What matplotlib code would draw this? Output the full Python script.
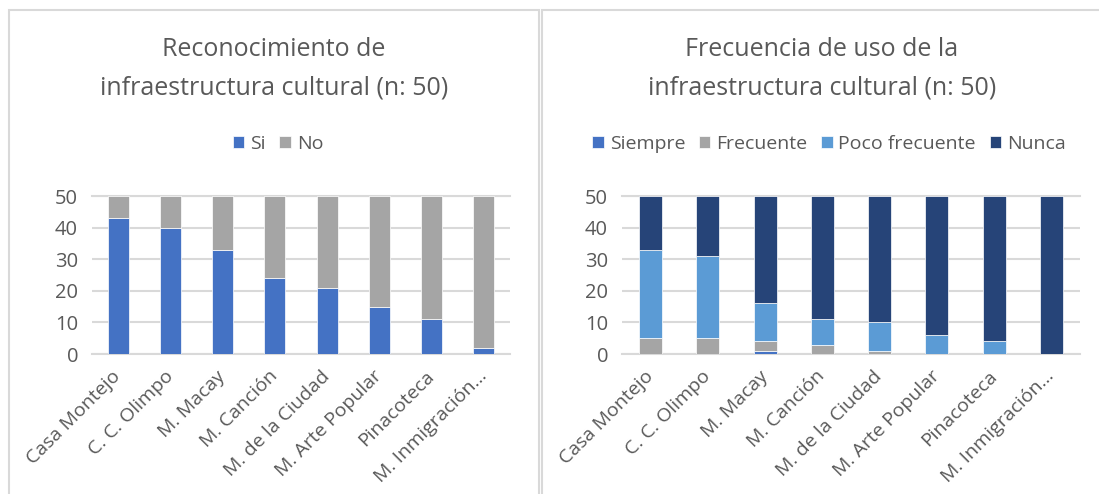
import numpy as np
import matplotlib.pyplot as plt
from matplotlib.patches import Rectangle

plt.rcParams['font.family'] = ['Open Sans', 'DejaVu Sans']

# ---------------- DATA ----------------
lugares = ["Casa Montejo", "C. C. Olimpo", "M. Macay", "M. Canción",
           "M. de la Ciudad", "M. Arte Popular", "Pinacoteca", "M. Inmigración..."]

# reconocimiento
si = [43, 40, 33, 24, 21, 15, 11, 2]
no = [7, 10, 17, 26, 29, 35, 39, 48]

# frecuencia de uso
siempre = [0, 0, 1, 0, 0, 0, 0, 0]
frecuente = [5, 5, 3, 3, 1, 0, 0, 0]
poco_frecuente = [28, 26, 12, 8, 9, 6, 4, 0]
nunca = [17, 19, 34, 39, 40, 44, 46, 50]

GRIS_TXT = "#595959"
GRID = "#d9d9d9"

fig = plt.figure(figsize=(10.99, 4.94), dpi=100)

# panel borders (Excel chart areas)
W, H = 1099, 494
for x0, x1 in [(9, 539), (542, 1110)]:
    fig.patches.append(Rectangle((x0 / W, -0.05), (x1 - x0) / W, (H - 10.5) / H + 0.05,
                                 transform=fig.transFigure, fill=False,
                                 edgecolor="#d9d9d9", linewidth=1.5))


def estilo(ax):
    x = np.arange(len(lugares))
    ax.set_xlim(-0.5, len(lugares) - 0.5)
    ax.set_ylim(0, 50)
    ax.set_yticks([0, 10, 20, 30, 40, 50])
    ax.yaxis.grid(True, color=GRID, linewidth=1.5, zorder=0)
    ax.set_axisbelow(True)
    for s in ax.spines.values():
        s.set_visible(False)
    ax.tick_params(length=0, labelsize=14.5, labelcolor=GRIS_TXT, pad=10)
    ax.set_xticks(x)
    ax.set_xticklabels(lugares, rotation=45, ha="right", va="center", rotation_mode="anchor",
                       fontsize=14, color=GRIS_TXT)
    ax.tick_params(axis="x", pad=14)
    ax.axhline(0, color=GRID, linewidth=1.5, zorder=0, clip_on=False)
    ax.axhline(50, color=GRID, linewidth=1.5, zorder=0, clip_on=False)


# ---------------- RECONOCIMIENTO ----------------
ax1 = fig.add_axes([92 / W, 1 - 354 / H, (510 - 92) / W, (354 - 196) / H])
x = np.arange(len(lugares))
ax1.bar(x, si, width=0.4, color="#4472C4", edgecolor="white", linewidth=0.5, label="Si", zorder=2)
ax1.bar(x, no, width=0.4, bottom=si, color="#A5A5A5", edgecolor="white", linewidth=0.5, label="No", zorder=2)
estilo(ax1)
fig.text(274 / W, 1 - 69 / H, "Reconocimiento de\ninfraestructura cultural (n: 50)",
         ha="center", va="center", fontsize=18, color=GRIS_TXT, linespacing=1.7)
fig.legend(*ax1.get_legend_handles_labels(), loc="center", bbox_to_anchor=(278 / W, 1 - 144 / H),
           ncol=2, frameon=False, fontsize=14, handlelength=0.6, handleheight=0.6,
           handletextpad=0.3, columnspacing=0.7, labelcolor=GRIS_TXT)

# ---------------- FRECUENCIA ----------------
ax2 = fig.add_axes([622 / W, 1 - 354 / H, (1080 - 622) / W, (354 - 196) / H])
base = np.zeros(len(lugares))
for vals, col, lab in [(siempre, "#4472C4", "Siempre"), (frecuente, "#A5A5A5", "Frecuente"),
                       (poco_frecuente, "#5B9BD5", "Poco frecuente"), (nunca, "#264478", "Nunca")]:
    ax2.bar(x, vals, width=0.4, bottom=base, color=col, edgecolor="white", linewidth=0.5,
            label=lab, zorder=2)
    base = base + np.array(vals)
estilo(ax2)
fig.text(822 / W, 1 - 69 / H, "Frecuencia de uso de la\ninfraestructura cultural (n: 50)",
         ha="center", va="center", fontsize=18, color=GRIS_TXT, linespacing=1.7)
fig.legend(*ax2.get_legend_handles_labels(), loc="center", bbox_to_anchor=(829 / W, 1 - 144 / H),
           ncol=4, frameon=False, fontsize=14, handlelength=0.6, handleheight=0.6,
           handletextpad=0.3, columnspacing=0.7, labelcolor=GRIS_TXT)

plt.savefig("out.png", dpi=100)
